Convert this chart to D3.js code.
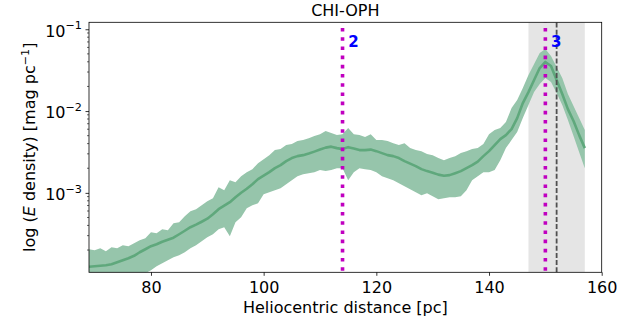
<!DOCTYPE html>
<html>
<head>
<meta charset="utf-8">
<script src="https://cdn.jsdelivr.net/npm/d3@7"></script>
<style>
  body { margin: 0; background: #fff; }
  text { font-family: "DejaVu Sans", sans-serif; fill: #000; }
</style>
</head>
<body>
<svg id="chart"></svg>
<script>
// distance grid [pc], one sample per pc
const distance = d3.range(69, 158);

// log10 of E density [mag/pc]
const logMean = [
  -3.903, -3.897, -3.891, -3.885, -3.873, -3.848, -3.824, -3.799, -3.769, -3.726,
  -3.689, -3.652, -3.628, -3.597, -3.573, -3.548, -3.506, -3.463, -3.420, -3.389,
  -3.353, -3.316, -3.261, -3.200, -3.157, -3.114, -3.053, -2.998, -2.949, -2.894,
  -2.832, -2.790, -2.747, -2.698, -2.661, -2.612, -2.575, -2.551, -2.539, -2.520,
  -2.496, -2.471, -2.447, -2.435, -2.453, -2.465, -2.441, -2.459, -2.477, -2.477,
  -2.471, -2.490, -2.514, -2.539, -2.551, -2.575, -2.612, -2.643, -2.673, -2.710,
  -2.734, -2.753, -2.777, -2.790, -2.783, -2.759, -2.734, -2.698, -2.661, -2.618,
  -2.551, -2.490, -2.416, -2.343, -2.294, -2.220, -2.086, -1.902, -1.768, -1.621,
  -1.474, -1.400, -1.449, -1.621, -1.792, -1.976, -2.122, -2.294, -2.453
];
const logUpper = [
  -3.689, -3.701, -3.677, -3.714, -3.665, -3.677, -3.640, -3.652, -3.616, -3.579,
  -3.555, -3.481, -3.493, -3.444, -3.457, -3.371, -3.359, -3.285, -3.224, -3.200,
  -3.151, -3.102, -3.065, -2.930, -2.967, -2.845, -2.869, -2.796, -2.747, -2.710,
  -2.637, -2.588, -2.539, -2.477, -2.465, -2.416, -2.404, -2.367, -2.355, -2.331,
  -2.306, -2.282, -2.245, -2.269, -2.294, -2.282, -2.208, -2.282, -2.294, -2.318,
  -2.282, -2.355, -2.355, -2.367, -2.392, -2.416, -2.392, -2.453, -2.477, -2.490,
  -2.526, -2.539, -2.575, -2.600, -2.575, -2.551, -2.514, -2.490, -2.465, -2.453,
  -2.404, -2.282, -2.233, -2.208, -2.135, -1.963, -1.865, -1.719, -1.559, -1.425,
  -1.290, -1.241, -1.327, -1.462, -1.596, -1.792, -1.939, -2.086, -2.233
];
const logLower = [
  -4.191, -4.179, -4.167, -4.154, -4.142, -4.130, -4.105, -4.081, -4.044, -4.020,
  -3.983, -3.946, -3.897, -3.861, -3.824, -3.787, -3.763, -3.726, -3.677, -3.640,
  -3.591, -3.542, -3.506, -3.444, -3.420, -3.530, -3.359, -3.298, -3.187, -3.151,
  -3.126, -3.016, -2.992, -2.967, -2.943, -2.894, -2.845, -2.796, -2.771, -2.759,
  -2.747, -2.722, -2.734, -2.722, -2.698, -2.698, -2.845, -2.747, -2.698, -2.710,
  -2.722, -2.747, -2.796, -2.820, -2.845, -2.881, -2.918, -2.955, -2.992, -3.028,
  -3.004, -3.040, -3.077, -3.065, -3.053, -3.053, -3.040, -2.967, -2.845, -2.796,
  -2.747, -2.747, -2.722, -2.600, -2.453, -2.355, -2.257, -2.086, -1.927, -1.768,
  -1.670, -1.596, -1.645, -1.780, -1.927, -2.110, -2.306, -2.502, -2.698
];

const xTicks = [80, 100, 120, 140, 160];
const yTickExp = [-3, -2, -1];
const cloudDist = [114, 150];
const cloudLabel = ["2", "3"];
const refDist = 152;
const refRange = [147, 157];

const W = 644, H = 325;
const margin = { top: 22.3, right: 42.3, bottom: 52.7, left: 89 },
      width = W - margin.left - margin.right,
      height = H - margin.top - margin.bottom;
const fs = 16, fsSup = 11.2;

const svg = d3.select("#chart").attr("width", W).attr("height", H);

svg.append("defs").append("clipPath").attr("id", "plotclip")
  .append("rect").attr("width", width).attr("height", height);

const g = svg.append("g")
  .attr("transform", `translate(${margin.left},${margin.top})`);

const x = d3.scaleLinear().domain([69, 160]).range([0, width]);
const y = d3.scaleLog().domain([Math.pow(10, -3.971), Math.pow(10, -0.915)]).range([height, 0]);

const data = distance.map((d, i) => ({
  d, mean: Math.pow(10, logMean[i]), lo: Math.pow(10, logLower[i]), hi: Math.pow(10, logUpper[i])
}));

const plot = g.append("g").attr("clip-path", "url(#plotclip)");

// grey reference span
plot.append("rect")
  .attr("x", x(refRange[0]))
  .attr("y", 0)
  .attr("width", x(refRange[1]) - x(refRange[0]))
  .attr("height", height)
  .attr("fill", "#e5e5e5");

// uncertainty band
plot.append("path")
  .datum(data)
  .attr("fill", "#96c5ab")
  .attr("d", d3.area().x(d => x(d.d)).y0(d => y(d.lo)).y1(d => y(d.hi)));

// mean curve
plot.append("path")
  .datum(data)
  .attr("fill", "none")
  .attr("stroke", "#5fa87c")
  .attr("stroke-width", 2.6)
  .attr("stroke-linejoin", "round")
  .attr("d", d3.line().x(d => x(d.d)).y(d => y(d.mean)));

// reference distance (dashed)
plot.append("line")
  .attr("x1", x(refDist)).attr("x2", x(refDist))
  .attr("y1", height).attr("y2", 0)
  .attr("stroke", "#505050")
  .attr("stroke-width", 1.8)
  .attr("stroke-dasharray", "5,2.2");

// cloud distances (dotted magenta)
plot.selectAll(".cloud")
  .data(cloudDist)
  .enter()
  .append("line")
  .attr("x1", d => x(d)).attr("x2", d => x(d))
  .attr("y1", height - 1.5).attr("y2", 0)
  .attr("stroke", "#c000c0")
  .attr("stroke-width", 3.6)
  .attr("stroke-dasharray", "3.6,5.6");

g.selectAll(".clabel")
  .data(cloudDist)
  .enter()
  .append("text")
  .attr("x", d => x(d + 1))
  .attr("y", 25)
  .style("font-size", "15px")
  .style("font-weight", "bold")
  .style("fill", "#0000ff")
  .text((d, i) => cloudLabel[i]);

// x axis
const xAxis = g.append("g")
  .attr("transform", `translate(0,${height})`)
  .call(d3.axisBottom(x).tickValues(xTicks).tickSize(3.5));
xAxis.selectAll("text")
  .attr("y", 20.4).attr("dy", null)
  .style("font-size", fs + "px").style("font-family", "DejaVu Sans");

// y axis, major ticks
const yAxis = g.append("g")
  .call(d3.axisLeft(y).tickValues(yTickExp.map(e => Math.pow(10, e))).tickSize(3.5).tickFormat(""));

// minor ticks
const minor = [];
[-4, -3, -2].forEach(e => d3.range(2, 10).forEach(m => {
  const v = m * Math.pow(10, e);
  if (v > y.domain()[0] && v < y.domain()[1]) minor.push(v);
}));
g.append("g").selectAll("line")
  .data(minor)
  .enter()
  .append("line")
  .attr("x1", -2).attr("x2", 0)
  .attr("y1", d => y(d)).attr("y2", d => y(d))
  .attr("stroke", "#000").attr("stroke-width", 0.6);

// y tick labels 10^e
const yl = g.append("g").selectAll("text")
  .data(yTickExp)
  .enter()
  .append("text")
  .attr("x", -7)
  .attr("y", d => y(Math.pow(10, d)) + 7.3)
  .attr("text-anchor", "end")
  .style("font-size", fs + "px");
yl.append("tspan").text("10");
yl.append("tspan")
  .attr("dy", -7.5)
  .style("font-size", fsSup + "px")
  .text(d => "\u2212" + Math.abs(d));

[xAxis, yAxis].forEach(a => {
  a.select(".domain").remove();
  a.selectAll(".tick line").attr("stroke", "#000").attr("stroke-width", 0.8);
});

// frame
g.append("rect")
  .attr("width", width).attr("height", height)
  .attr("fill", "none").attr("stroke", "#000").attr("stroke-width", 0.8);

// title and labels
svg.append("text")
  .attr("x", margin.left + width / 2)
  .attr("y", 15.7)
  .attr("text-anchor", "middle")
  .style("font-size", fs + "px")
  .text("CHI-OPH");

svg.append("text")
  .attr("x", margin.left + width / 2)
  .attr("y", 312.5)
  .attr("text-anchor", "middle")
  .style("font-size", fs + "px")
  .text("Heliocentric distance [pc]");

const ylab = svg.append("text")
  .attr("transform", `translate(35,${margin.top + height / 2}) rotate(-90)`)
  .attr("text-anchor", "middle")
  .style("font-size", fs + "px");
ylab.append("tspan").text("log (");
ylab.append("tspan").style("font-style", "italic").text("E");
ylab.append("tspan").text(" density) [mag pc");
ylab.append("tspan").attr("dy", -6.5).style("font-size", fsSup + "px").text("\u22121");
ylab.append("tspan").attr("dy", 6.5).text("]");
</script>
</body>
</html>
